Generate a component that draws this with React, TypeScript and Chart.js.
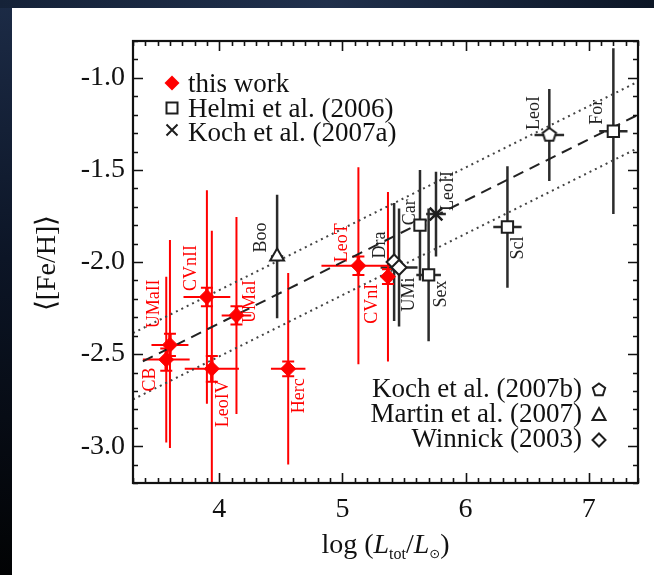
import React, { useEffect, useRef } from 'react';
import { Chart, registerables } from 'chart.js';

Chart.register(...registerables);

// ---------------- data ----------------
const xRange = [3.3, 7.4];
const yRange = [-3.2, -0.8];
const xTickValues = [4, 5, 6, 7];
const yTickValues = [-3.0, -2.5, -2.0, -1.5, -1.0];

// this work (red)
const redNames = ['CB', 'UMaII', 'CVnII', 'LeoIV', 'UMaI', 'Herc', 'LeoT', 'CVnI'];
const redLogL = [3.57, 3.6, 3.9, 3.94, 4.14, 4.56, 5.13, 5.37];
const redFeH = [-2.53, -2.45, -2.19, -2.58, -2.29, -2.58, -2.02, -2.08];
const redLogLErr = [0.19, 0.15, 0.19, 0.22, 0.12, 0.14, 0.3, 0.05];
const redFeHErrUp = [0.45, 0.57, 0.58, 0.75, 0.535, 0.52, 0.535, 0.46];
const redFeHErrDown = [0.45, 0.56, 0.58, 0.75, 0.535, 0.52, 0.535, 0.46];
const redFeHErrMean = [0.06, 0.06, 0.05, 0.07, 0.05, 0.04, 0.05, 0.04];

// literature (black)
const blackNames = ['Boo', 'Dra', 'UMi', 'Car', 'Sex', 'LeoII', 'Scl', 'LeoI', 'For'];
const blackLogL = [4.47, 5.42, 5.46, 5.63, 5.7, 5.76, 6.34, 6.68, 7.2];
const blackFeH = [-1.97, -2.0, -2.03, -1.8, -2.07, -1.74, -1.81, -1.31, -1.29];
const blackLogLErr = [0.05, 0.04, 0.15, 0.05, 0.1, 0.08, 0.115, 0.12, 0.115];
const blackFeHErr = [0.335, 0.32, 0.32, 0.3, 0.36, 0.23, 0.33, 0.25, 0.45];
const blackSource = ['Martin07', 'Winnick03', 'Winnick03', 'Helmi06', 'Helmi06', 'Koch07a', 'Helmi06', 'Koch07b', 'Helmi06'];

// fit relation
const fitSlope = 0.333;
const fitPivot = 5.0;
const fitAtPivot = -2.0;
const fitScatter = 0.18;
const fitStart = 3.38;

// legend texts
const legendTopLabels = ['this work', 'Helmi et al. (2006)', 'Koch et al. (2007a)'];
const legendBottomLabels = ['Koch et al. (2007b)', 'Martin et al. (2007)', 'Winnick (2003)'];

// ---------------- styling / layout ----------------
const RED = '#ff0000';
const INK = '#1e1e1e';
const SERIF = '"Liberation Serif", "Times New Roman", serif';
const redLabelOffset = [[-16, 20], [-16, -41], [-16, -29], [11, 35], [14, -14], [11, 27], [-16, -23], [-16, 27]];
const blackLabelOffset = [[-16, -19], [-14, -17], [10, 27], [-10, -13], [13, 19], [12, -23], [11, 21], [-15, -22], [-16, -19]];

const fit = (x: number) => fitAtPivot + fitSlope * (x - fitPivot);

function makePentagon(r: number) {
  const c = document.createElement('canvas');
  const s = Math.ceil(r * 2 + 4);
  c.width = s; c.height = s;
  const g = c.getContext('2d')!;
  pentagonPath(g, s / 2, s / 2, r);
  g.fillStyle = '#fff'; g.fill();
  g.lineWidth = 2; g.strokeStyle = INK; g.stroke();
  return c;
}
function pentagonPath(g: CanvasRenderingContext2D, cx: number, cy: number, r: number) {
  g.beginPath();
  for (let i = 0; i < 5; i++) {
    const a = -Math.PI / 2 + (i * 2 * Math.PI) / 5;
    const px = cx + r * Math.cos(a), py = cy + r * Math.sin(a);
    if (i === 0) g.moveTo(px, py); else g.lineTo(px, py);
  }
  g.closePath();
}

const bgPlugin = {
  id: 'bgPanel',
  beforeDraw(chart: any) {
    const { ctx, width, height } = chart;
    ctx.save();
    const g = ctx.createLinearGradient(0, 0, 0, height);
    g.addColorStop(0, '#1c2b46');
    g.addColorStop(0.45, '#0c1526');
    g.addColorStop(1, '#020304');
    ctx.fillStyle = g;
    ctx.fillRect(0, 0, width, height);
    const g2 = ctx.createLinearGradient(0, 0, width, 0);
    g2.addColorStop(0, 'rgba(21,34,56,1)');
    g2.addColorStop(0.5, 'rgba(32,48,76,1)');
    g2.addColorStop(1, 'rgba(12,22,38,1)');
    ctx.fillStyle = g2;
    ctx.fillRect(0, 0, width, 8);
    ctx.fillStyle = '#ffffff';
    ctx.fillRect(12, 8, width - 12, height - 8);
    ctx.restore();
  },
};

const errorBarPlugin = {
  id: 'errorBars',
  beforeDatasetsDraw(chart: any) {
    const { ctx, chartArea: a } = chart;
    const x = chart.scales.x, y = chart.scales.y;
    ctx.save();
    ctx.beginPath();
    ctx.rect(a.left, a.top, a.right - a.left, a.bottom - a.top);
    ctx.clip();
    // black
    ctx.strokeStyle = '#2b2b2b';
    ctx.lineWidth = 2.5;
    blackLogL.forEach((lx, i) => {
      const px = x.getPixelForValue(lx), py = y.getPixelForValue(blackFeH[i]);
      ctx.beginPath();
      ctx.moveTo(px, y.getPixelForValue(blackFeH[i] + blackFeHErr[i]));
      ctx.lineTo(px, y.getPixelForValue(blackFeH[i] - blackFeHErr[i]));
      ctx.moveTo(x.getPixelForValue(lx - blackLogLErr[i]), py);
      ctx.lineTo(x.getPixelForValue(lx + blackLogLErr[i]), py);
      ctx.stroke();
    });
    // red
    ctx.strokeStyle = RED;
    redLogL.forEach((lx, i) => {
      const px = x.getPixelForValue(lx), py = y.getPixelForValue(redFeH[i]);
      ctx.lineWidth = 2;
      ctx.beginPath();
      ctx.moveTo(px, y.getPixelForValue(redFeH[i] + redFeHErrUp[i]));
      ctx.lineTo(px, y.getPixelForValue(redFeH[i] - redFeHErrDown[i]));
      ctx.moveTo(x.getPixelForValue(lx - redLogLErr[i]), py);
      ctx.lineTo(x.getPixelForValue(lx + redLogLErr[i]), py);
      ctx.stroke();
      // inner (error of the mean) bar with caps
      const t = y.getPixelForValue(redFeH[i] + redFeHErrMean[i]);
      const b = y.getPixelForValue(redFeH[i] - redFeHErrMean[i]);
      ctx.lineWidth = 3.5;
      ctx.beginPath();
      ctx.moveTo(px, t); ctx.lineTo(px, b);
      ctx.stroke();
      ctx.lineWidth = 2;
      ctx.beginPath();
      ctx.moveTo(px - 6, t); ctx.lineTo(px + 6, t);
      ctx.moveTo(px - 6, b); ctx.lineTo(px + 6, b);
      ctx.stroke();
    });
    ctx.restore();
  },
};

const annotatePlugin = {
  id: 'annotate',
  afterDatasetsDraw(chart: any) {
    const { ctx } = chart;
    const x = chart.scales.x, y = chart.scales.y;
    ctx.save();
    ctx.font = `18px ${SERIF}`;
    ctx.textAlign = 'center';
    ctx.textBaseline = 'middle';
    const put = (txt: string, cx: number, cy: number, col: string) => {
      ctx.save();
      ctx.translate(cx, cy);
      ctx.rotate(-Math.PI / 2);
      ctx.fillStyle = col;
      ctx.fillText(txt, 0, 0);
      ctx.restore();
    };
    redNames.forEach((n, i) => {
      put(n, x.getPixelForValue(redLogL[i]) + redLabelOffset[i][0], y.getPixelForValue(redFeH[i]) + redLabelOffset[i][1], RED);
    });
    blackNames.forEach((n, i) => {
      put(n, x.getPixelForValue(blackLogL[i]) + blackLabelOffset[i][0], y.getPixelForValue(blackFeH[i]) + blackLabelOffset[i][1], '#222');
    });
    ctx.restore();
  },
};

const framePlugin = {
  id: 'frameTicks',
  afterDraw(chart: any) {
    const { ctx, chartArea: a, width } = chart;
    const x = chart.scales.x, y = chart.scales.y;
    ctx.save();
    ctx.strokeStyle = '#111';
    ctx.lineWidth = 1.6;
    ctx.beginPath();
    for (let k = Math.round(xRange[0] * 10); k <= Math.round(xRange[1] * 10); k++) {
      const px = Math.round(x.getPixelForValue(k / 10)) + 0.5;
      const len = k % 10 === 0 ? 10 : 5;
      ctx.moveTo(px, a.bottom); ctx.lineTo(px, a.bottom - len);
      ctx.moveTo(px, a.top); ctx.lineTo(px, a.top + len);
    }
    for (let k = Math.round(yRange[0] * 10); k <= Math.round(yRange[1] * 10); k++) {
      const py = Math.round(y.getPixelForValue(k / 10)) + 0.5;
      const len = k % 5 === 0 ? 10 : 5;
      ctx.moveTo(a.left, py); ctx.lineTo(a.left + len, py);
      ctx.moveTo(a.right, py); ctx.lineTo(a.right - len, py);
    }
    ctx.stroke();
    ctx.lineWidth = 2.2;
    ctx.strokeRect(a.left, a.top, a.right - a.left, a.bottom - a.top);

    // y title
    ctx.fillStyle = '#111';
    ctx.save();
    ctx.translate(48, (a.top + a.bottom) / 2 + 1);
    ctx.rotate(-Math.PI / 2);
    ctx.font = `28px ${SERIF}`;
    ctx.textAlign = 'center';
    ctx.textBaseline = 'middle';
    ctx.fillText('\u27E8[Fe/H]\u27E9', 0, 0);
    ctx.restore();

    // x title: log (L_tot/L_sun)
    const parts = [
      { t: 'log (', f: `28px ${SERIF}`, dy: 0 },
      { t: 'L', f: `italic 28px ${SERIF}`, dy: 0 },
      { t: 'tot', f: `16px ${SERIF}`, dy: 6 },
      { t: '/', f: `28px ${SERIF}`, dy: 0 },
      { t: 'L', f: `italic 28px ${SERIF}`, dy: 0 },
      { t: '\u2299', f: `13px "DejaVu Sans", sans-serif`, dy: 5 },
      { t: ')', f: `28px ${SERIF}`, dy: 0 },
    ];
    let total = 0;
    const ws = parts.map((p) => { ctx.font = p.f; const w = ctx.measureText(p.t).width; total += w; return w; });
    let cx = (a.left + a.right) / 2 - total / 2;
    ctx.textAlign = 'left';
    ctx.textBaseline = 'alphabetic';
    parts.forEach((p, i) => { ctx.font = p.f; ctx.fillText(p.t, cx, 553 + p.dy); cx += ws[i]; });

    // legend top-left
    ctx.font = `27px ${SERIF}`;
    ctx.textAlign = 'left';
    const lx = 172, tx = 188;
    const base = [92, 116.5, 140.5];
    legendTopLabels.forEach((s, i) => ctx.fillText(s, tx, base[i]));
    // diamond
    ctx.fillStyle = RED;
    ctx.beginPath();
    ctx.moveTo(lx, 83 - 7.5); ctx.lineTo(lx + 7.5, 83); ctx.lineTo(lx, 83 + 7.5); ctx.lineTo(lx - 7.5, 83); ctx.closePath();
    ctx.fill();
    ctx.strokeStyle = INK; ctx.lineWidth = 2;
    ctx.strokeRect(lx - 5.5, 108 - 5.5, 11, 11);
    ctx.beginPath();
    ctx.moveTo(lx - 5.5, 130 - 5.5); ctx.lineTo(lx + 5.5, 130 + 5.5);
    ctx.moveTo(lx + 5.5, 130 - 5.5); ctx.lineTo(lx - 5.5, 130 + 5.5);
    ctx.stroke();

    // legend bottom-right
    ctx.fillStyle = '#111';
    ctx.textAlign = 'right';
    const bb = [397, 422, 447];
    legendBottomLabels.forEach((s, i) => ctx.fillText(s, 582, bb[i]));
    const mx = 599;
    ctx.lineWidth = 2;
    pentagonPath(ctx, mx, 390, 6.5);
    ctx.stroke();
    ctx.beginPath();
    ctx.moveTo(mx, 415 - 7); ctx.lineTo(mx + 6.5, 415 + 5); ctx.lineTo(mx - 6.5, 415 + 5); ctx.closePath();
    ctx.stroke();
    ctx.beginPath();
    ctx.moveTo(mx, 440 - 6.5); ctx.lineTo(mx + 6.5, 440); ctx.lineTo(mx, 440 + 6.5); ctx.lineTo(mx - 6.5, 440); ctx.closePath();
    ctx.stroke();
    ctx.restore();
  },
};

export default function App() {
  const ref = useRef<HTMLCanvasElement | null>(null);
  useEffect(() => {
    const canvas = ref.current!;
    const pentImg = makePentagon(7);
    const pick = (src: string) =>
      blackLogL.map((v, i) => ({ x: v, y: blackFeH[i], s: blackSource[i] })).filter((p) => p.s === src).map((p) => ({ x: p.x, y: p.y }));
    const chart = new Chart(canvas, {
      type: 'scatter',
      data: {
        datasets: [
          {
            label: 'this work',
            data: redLogL.map((v, i) => ({ x: v, y: redFeH[i] })),
            pointStyle: 'rectRot', pointRadius: 7.5,
            backgroundColor: RED, borderColor: RED, borderWidth: 1,
          },
          {
            label: 'Helmi et al. (2006)', data: pick('Helmi06'),
            pointStyle: 'rect', pointRadius: 8, backgroundColor: '#fff', borderColor: INK, borderWidth: 2,
          },
          {
            label: 'Koch et al. (2007a)', data: pick('Koch07a'),
            pointStyle: 'crossRot', pointRadius: 9, backgroundColor: INK, borderColor: INK, borderWidth: 2.5,
          },
          {
            label: 'Koch et al. (2007b)', data: pick('Koch07b'),
            pointStyle: pentImg as any, pointRadius: 7,
          },
          {
            label: 'Martin et al. (2007)', data: pick('Martin07'),
            pointStyle: 'triangle', pointRadius: 8, backgroundColor: '#fff', borderColor: INK, borderWidth: 2,
          },
          {
            label: 'Winnick (2003)', data: pick('Winnick03'),
            pointStyle: 'rectRot', pointRadius: 7.5, backgroundColor: '#fff', borderColor: INK, borderWidth: 2,
          },
          {
            label: 'fit', data: [{ x: fitStart, y: fit(fitStart) }, { x: xRange[1], y: fit(xRange[1]) }],
            showLine: true, pointRadius: 0, borderColor: '#222', borderWidth: 2, borderDash: [11, 7],
          } as any,
          {
            label: 'fit+', data: [{ x: xRange[0], y: fit(xRange[0]) + fitScatter }, { x: xRange[1], y: fit(xRange[1]) + fitScatter }],
            showLine: true, pointRadius: 0, borderColor: '#444', borderWidth: 2, borderDash: [2, 4],
          } as any,
          {
            label: 'fit-', data: [{ x: xRange[0], y: fit(xRange[0]) - fitScatter }, { x: xRange[1], y: fit(xRange[1]) - fitScatter }],
            showLine: true, pointRadius: 0, borderColor: '#444', borderWidth: 2, borderDash: [2, 4],
          } as any,
        ],
      },
      options: {
        responsive: false,
        animation: false,
        events: [],
        layout: { padding: { left: 0, top: 41, right: 16, bottom: 0 } },
        plugins: { legend: { display: false }, tooltip: { enabled: false } },
        scales: {
          x: {
            type: 'linear', min: xRange[0], max: xRange[1],
            grid: { display: false, drawTicks: false }, border: { display: false },
            afterBuildTicks: (s: any) => { s.ticks = xTickValues.map((v) => ({ value: v })); },
            afterFit: (s: any) => { s.height = 92; },
            ticks: { color: '#111', font: { family: SERIF, size: 28 }, padding: 10, maxRotation: 0, autoSkip: false, callback: (v: any) => String(v) },
          },
          y: {
            type: 'linear', min: yRange[0], max: yRange[1],
            grid: { display: false, drawTicks: false }, border: { display: false },
            afterBuildTicks: (s: any) => { s.ticks = yTickValues.map((v) => ({ value: v })); },
            afterFit: (s: any) => { s.width = 133; },
            ticks: { color: '#111', font: { family: SERIF, size: 28 }, padding: 8, autoSkip: false, callback: (v: any) => Number(v).toFixed(1) },
          },
        },
      },
      plugins: [bgPlugin, errorBarPlugin, annotatePlugin, framePlugin],
    } as any);
    return () => chart.destroy();
  }, []);
  return (
    <div style={{ position: 'fixed', left: 0, top: 0, width: 654, height: 575 }}>
      <canvas ref={ref} width={654} height={575} style={{ display: 'block', width: 654, height: 575 }} />
    </div>
  );
}
